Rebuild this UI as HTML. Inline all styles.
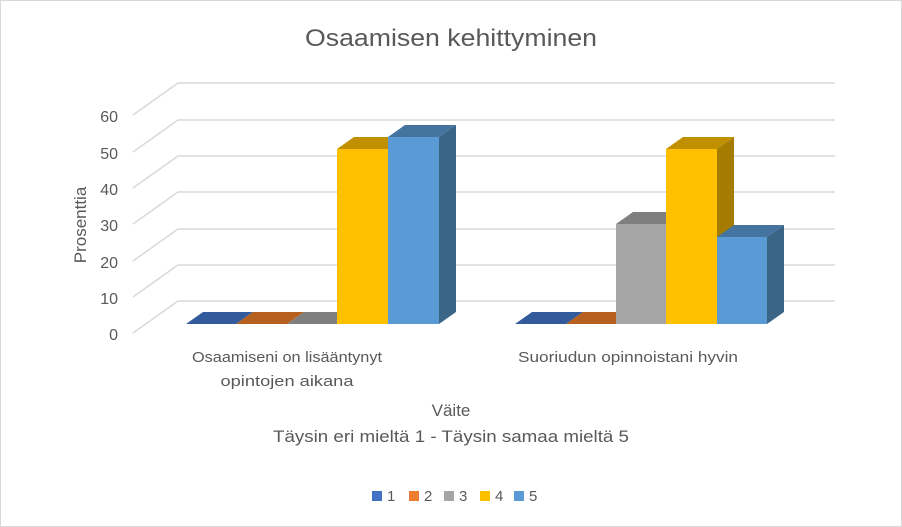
<!DOCTYPE html>
<html><head><meta charset="utf-8"><style>
html,body{margin:0;padding:0;background:#fff}
svg{display:block}
text{font-family:"Liberation Sans",sans-serif;fill:#595959}
</style></head><body>
<svg width="902" height="527" viewBox="0 0 902 527" xmlns="http://www.w3.org/2000/svg">
<rect x="0.5" y="0.5" width="901" height="526" fill="#fff" stroke="#d9d9d9"/>
<text x="451" y="46" font-size="24" text-anchor="middle" textLength="292" lengthAdjust="spacingAndGlyphs">Osaamisen kehittyminen</text>
<g stroke="#d9d9d9" stroke-width="1.5" fill="none">
<polyline points="133,333 178,301 835,301"/>
<polyline points="133,297 178,265 835,265"/>
<polyline points="133,261 178,229 835,229"/>
<polyline points="133,224 178,192 835,192"/>
<polyline points="133,188 178,156 835,156"/>
<polyline points="133,152 178,120 835,120"/>
<polyline points="133,115 178,83 835,83"/>
</g>
<g font-size="16" text-anchor="end">
<text x="118" y="340">0</text>
<text x="118" y="304">10</text>
<text x="118" y="268">20</text>
<text x="118" y="231">30</text>
<text x="118" y="195">40</text>
<text x="118" y="159">50</text>
<text x="118" y="122">60</text>
</g>
<text transform="translate(86,225) rotate(-90)" font-size="17" text-anchor="middle">Prosenttia</text>
<!-- group 1 -->
<polygon points="186,324 236,324 253,312 203,312" fill="#335A9A"/>
<polygon points="236,324 287,324 304,312 253,312" fill="#B5601F"/>
<polygon points="287,324 337,324 354,312 304,312" fill="#7F7F7F"/>
<polygon points="337,149 388,149 405,137 354,137" fill="#C09000"/>
<polygon points="337,149 388,149 388,324 337,324" fill="#FFC000"/>
<polygon points="388,137 439,137 456,125 405,125" fill="#44749F"/>
<polygon points="439,137 456,125 456,312 439,324" fill="#3A6587"/>
<rect x="388" y="137" width="51" height="187" fill="#5B9BD5"/>
<!-- group 2 -->
<polygon points="515,324 566,324 583,312 532,312" fill="#335A9A"/>
<polygon points="566,324 616,324 633,312 583,312" fill="#B5601F"/>
<polygon points="616,224 666,224 683,212 633,212" fill="#7F7F7F"/>
<rect x="616" y="224" width="50" height="100" fill="#A5A5A5"/>
<polygon points="666,149 717,149 734,137 683,137" fill="#C09000"/>
<polygon points="717,149 734,137 734,312 717,324" fill="#A67C00"/>
<rect x="666" y="149" width="51" height="175" fill="#FFC000"/>
<polygon points="717,237 767,237 784,225 734,225" fill="#44749F"/>
<polygon points="767,237 784,225 784,312 767,324" fill="#3A6587"/>
<rect x="717" y="237" width="50" height="87" fill="#5B9BD5"/>
<g font-size="15" text-anchor="middle">
<text x="287" y="362" textLength="190" lengthAdjust="spacingAndGlyphs">Osaamiseni on lisääntynyt</text>
<text x="287" y="386" textLength="133" lengthAdjust="spacingAndGlyphs">opintojen aikana</text>
<text x="628" y="362" textLength="220" lengthAdjust="spacingAndGlyphs">Suoriudun opinnoistani hyvin</text>
</g>
<text x="451" y="416" font-size="17" text-anchor="middle">Väite</text>
<text x="451" y="442" font-size="17" text-anchor="middle" textLength="356" lengthAdjust="spacingAndGlyphs">Täysin eri mieltä 1 - Täysin samaa mieltä 5</text>
<g font-size="15">
<rect x="372" y="491" width="10" height="10" fill="#4472C4"/><text x="387" y="501">1</text>
<rect x="409" y="491" width="10" height="10" fill="#ED7D31"/><text x="424" y="501">2</text>
<rect x="444" y="491" width="10" height="10" fill="#A5A5A5"/><text x="459" y="501">3</text>
<rect x="480" y="491" width="10" height="10" fill="#FFC000"/><text x="495" y="501">4</text>
<rect x="514" y="491" width="10" height="10" fill="#5B9BD5"/><text x="529" y="501">5</text>
</g>
</svg>
</body></html>
